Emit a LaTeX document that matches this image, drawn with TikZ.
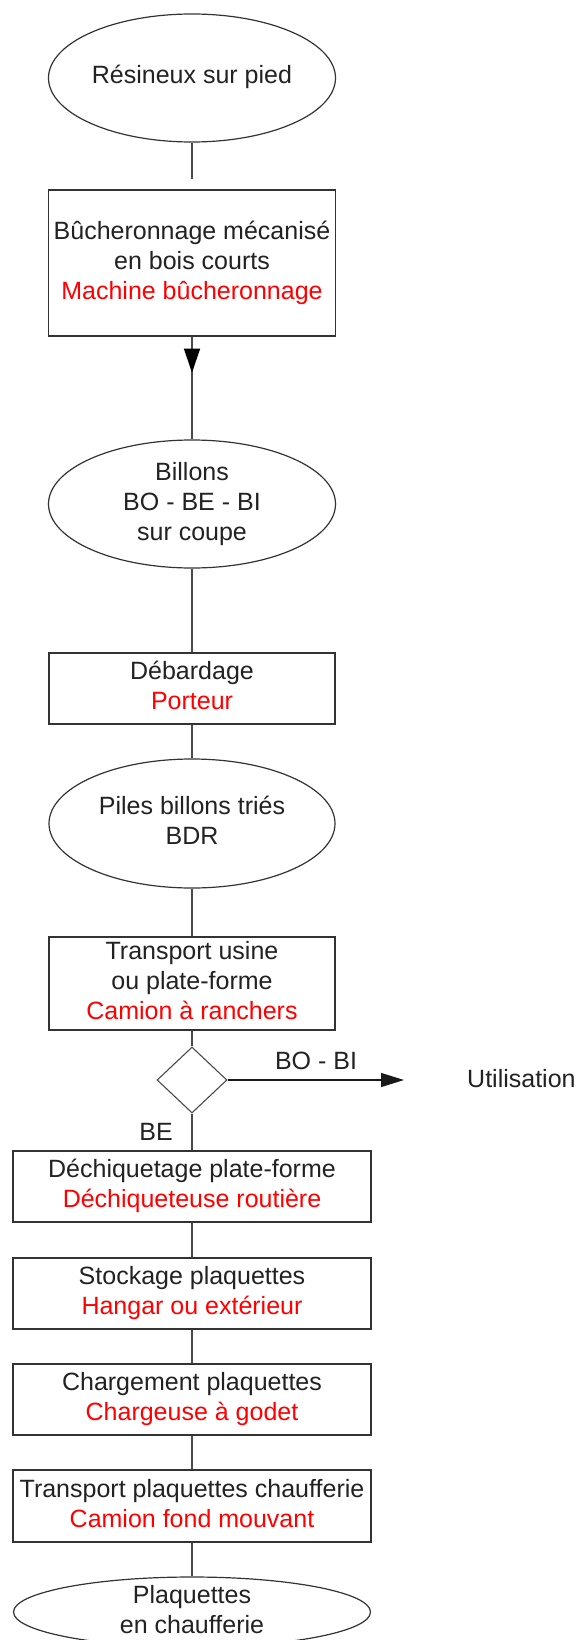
\documentclass[tikz,border=0pt]{standalone}
\usepackage{fontspec}
\setmainfont{Liberation Sans}
\usetikzlibrary{shapes.geometric,arrows.meta,decorations.markings}
\definecolor{edgegray}{HTML}{4A4A4A}
\definecolor{framegray}{HTML}{333333}
\definecolor{inkgray}{HTML}{222222}
\tikzset{
  oval/.style={ellipse, draw=framegray, line width=1.2pt, inner sep=0pt, fill=white},
  stepbox/.style={rectangle, draw=framegray, line width=1.4pt, inner sep=0pt, fill=white},
  choice/.style={diamond, draw=edgegray, line width=1.1pt, inner sep=0pt, fill=white},
  txt/.style={align=center, inner sep=0pt, text=inkgray,
    font=\fontsize{25}{30}\selectfont},
  link/.style={draw=edgegray, line width=1.4pt},
  flow/.style={draw=black!90, line width=1.3pt, -{Triangle[length=23pt,width=14pt]}},
}
\newcommand{\tool}[1]{\textcolor{red}{\strut #1}}
\begin{document}
\begin{tikzpicture}[x=1pt,y=-1pt]
  \useasboundingbox (0,0) rectangle (576,1640);
  \clip (0,0) rectangle (576,1640);
  \fill[white] (0,0) rectangle (576,1640);

  % shapes of the chain
  \node[oval, minimum width=287pt, minimum height=128pt] (e1) at (192,78) {};
  \node[stepbox, minimum width=287pt, minimum height=146pt] (b1) at (192,263) {};
  \node[oval, minimum width=287pt, minimum height=128pt] (e2) at (192,504) {};
  \node[stepbox, minimum width=286pt, minimum height=71pt] (b2) at (192,688.5) {};
  \node[oval, minimum width=286pt, minimum height=129pt] (e3) at (192,823.5) {};
  \node[stepbox, minimum width=286pt, minimum height=93pt] (b3) at (192,983.5) {};
  \node[choice, minimum width=70pt, minimum height=66pt] (d1) at (192,1080) {};
  \node[stepbox, minimum width=358pt, minimum height=71pt] (b4) at (192,1186.5) {};
  \node[stepbox, minimum width=358pt, minimum height=71pt] (b5) at (192,1293.5) {};
  \node[stepbox, minimum width=358pt, minimum height=71pt] (b6) at (192,1399.5) {};
  \node[stepbox, minimum width=358pt, minimum height=72pt] (b7) at (192,1506) {};
  \node[oval, minimum width=357pt, minimum height=70pt] (e4) at (192,1612) {};

  % texts
  \node[txt] at (e1) {\strut Résineux sur pied};
  \node[txt] at (b1) {\strut Bûcheronnage mécanisé\\\strut en bois courts\\\tool{Machine bûcheronnage}};
  \node[txt] at (e2) {\strut Billons\\\strut BO - BE - BI\\\strut sur coupe};
  \node[txt] at (b2) {\strut Débardage\\\tool{Porteur}};
  \node[txt] at (e3) {\strut Piles billons triés\\\strut BDR};
  \node[txt] at (b3) {\strut Transport usine\\\strut ou plate-forme\\\tool{Camion à ranchers}};
  \node[txt] at (b4) {\strut Déchiquetage plate-forme\\\tool{Déchiqueteuse routière}};
  \node[txt] at (b5) {\strut Stockage plaquettes\\\tool{Hangar ou extérieur}};
  \node[txt] at (b6) {\strut Chargement plaquettes\\\tool{Chargeuse à godet}};
  \node[txt] at (b7) {\strut Transport plaquettes chaufferie\\\tool{Camion fond mouvant}};
  \node[txt] at (e4) {\strut Plaquettes\\\strut en chaufferie};

  % side exit
  \coordinate (exitend) at (404,1080);
  \node[txt, anchor=west] (use) at (467,1081) {\strut Utilisation};
  \node[txt] (lbo) at (316,1063) {\strut BO - BI};
  \node[txt] (lbe) at (156,1134) {\strut BE};

  % connectors
  \draw[link, shorten >=10pt] (e1.south) -- (b1.north);
  \draw[link, postaction={decorate}, decoration={markings,
      mark=at position 36pt with {\arrow[black]{Triangle[length=24pt,width=16pt]}}}]
    (b1.south) -- (e2.north);
  \draw[link] (e2.south) -- (b2.north);
  \draw[link] (b2.south) -- (e3.north);
  \draw[link] (e3.south) -- (b3.north);
  \draw[link] (b3.south) -- (d1.north);
  \draw[flow] (d1.east) -- (exitend);
  \draw[link] (d1.south) -- (b4.north);
  \draw[link] (b4.south) -- (b5.north);
  \draw[link] (b5.south) -- (b6.north);
  \draw[link] (b6.south) -- (b7.north);
  \draw[link] (b7.south) -- (e4.north);
\end{tikzpicture}
\end{document}
